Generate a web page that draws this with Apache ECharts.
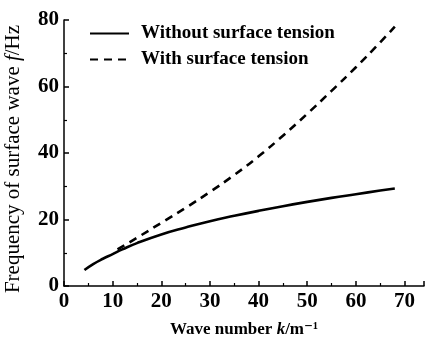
<!DOCTYPE html>
<html>
<head>
<meta charset="utf-8">
<script src="https://cdn.jsdelivr.net/npm/echarts@6/dist/echarts.min.js"></script>
<style>
  html, body { margin: 0; padding: 0; background: #fff; }
  #main { width: 427px; height: 337px; }
</style>
</head>
<body>
<div id="main"></div>
<script>
// values
var kNoTension = [4.2, 6, 8, 10, 12, 15, 20, 25, 30, 35, 40, 45, 50, 55, 60, 65, 68];
var fNoTension = [4.8, 6.6, 8.2, 9.6, 11, 12.9, 15.5, 17.6, 19.5, 21.1, 22.6, 24, 25.3, 26.5, 27.6, 28.7, 29.3];
var kTension = [11, 15, 20, 25, 30, 35, 40, 45, 50, 55, 60, 65, 68];
var fTension = [11, 14.5, 19, 23.5, 28.3, 33.4, 39, 45.2, 51.8, 58.7, 65.8, 73.3, 78];
var seriesNames = ['Without surface tension', 'With surface tension'];

function pairs(xs, ys) {
  var out = [];
  for (var i = 0; i < xs.length; i++) {
    out.push([xs[i], ys[i]]);
  }
  return out;
}

var myChart = echarts.init(document.getElementById('main'));
var serif = '"Liberation Serif", "DejaVu Serif", serif';

var option = {
  animation: false,
  textStyle: { fontFamily: serif, color: '#000' },
  grid: { left: 64, right: 3, top: 20, bottom: 51, outerBoundsMode: 'none', containLabel: false },
  legend: {
    orient: 'vertical',
    left: 89,
    top: 24,
    padding: 0,
    itemWidth: 39,
    itemHeight: 14,
    itemGap: 7,
    itemStyle: { opacity: 0 },
    textStyle: { fontFamily: serif, fontSize: 19, fontWeight: 'bold', color: '#000', padding: [0, 0, 0, 7] },
    data: seriesNames
  },
  xAxis: {
    type: 'value',
    min: 0,
    max: 74,
    interval: 10,
    name: '{n|Wave number }{i|k}{n|/m⁻¹}',
    nameLocation: 'middle',
    nameGap: 35,
    nameTextStyle: {
      rich: {
        n: { fontFamily: serif, fontSize: 17, fontWeight: 'bold', color: '#000' },
        i: { fontFamily: serif, fontSize: 17, fontWeight: 'bold', fontStyle: 'italic', color: '#000' }
      }
    },
    axisLine: { lineStyle: { color: '#000', width: 1.5 } },
    axisTick: { inside: true, length: 5, lineStyle: { color: '#000', width: 1.5 } },
    minorTick: { show: true, splitNumber: 2, length: 3, lineStyle: { color: '#000', width: 1.2 } },
    axisLabel: {
      fontFamily: serif, fontSize: 21, fontWeight: 'bold', color: '#000', margin: 5,
      formatter: function (v) { return v % 10 === 0 ? String(v) : ''; }
    },
    splitLine: { show: false }
  },
  yAxis: {
    type: 'value',
    min: 0,
    max: 80,
    interval: 20,
    name: '{n|Frequency of surface wave }{i|f}{n|/Hz}',
    nameLocation: 'middle',
    nameRotate: 90,
    nameGap: 40,
    nameTextStyle: {
      padding: [0, 12, 0, 0],
      rich: {
        n: { fontFamily: serif, fontSize: 21, color: '#000' },
        i: { fontFamily: serif, fontSize: 21, fontStyle: 'italic', color: '#000' }
      }
    },
    axisLine: { show: true, lineStyle: { color: '#000', width: 1.5 } },
    axisTick: { show: true, inside: true, length: 5, lineStyle: { color: '#000', width: 1.5 } },
    minorTick: { show: true, splitNumber: 2, length: 3, lineStyle: { color: '#000', width: 1.2 } },
    axisLabel: { fontFamily: serif, fontSize: 21, fontWeight: 'bold', color: '#000', margin: 5 },
    splitLine: { show: false }
  },
  series: [
    {
      name: seriesNames[0],
      type: 'line',
      smooth: true,
      symbol: 'none',
      data: pairs(kNoTension, fNoTension),
      lineStyle: { color: '#000', width: 2.6 },
      itemStyle: { color: '#000' }
    },
    {
      name: seriesNames[1],
      type: 'line',
      smooth: true,
      symbol: 'none',
      data: pairs(kTension, fTension),
      lineStyle: { color: '#000', width: 2.6, type: [8, 6] },
      itemStyle: { color: '#000' }
    }
  ]
};

myChart.setOption(option);
</script>
</body>
</html>
